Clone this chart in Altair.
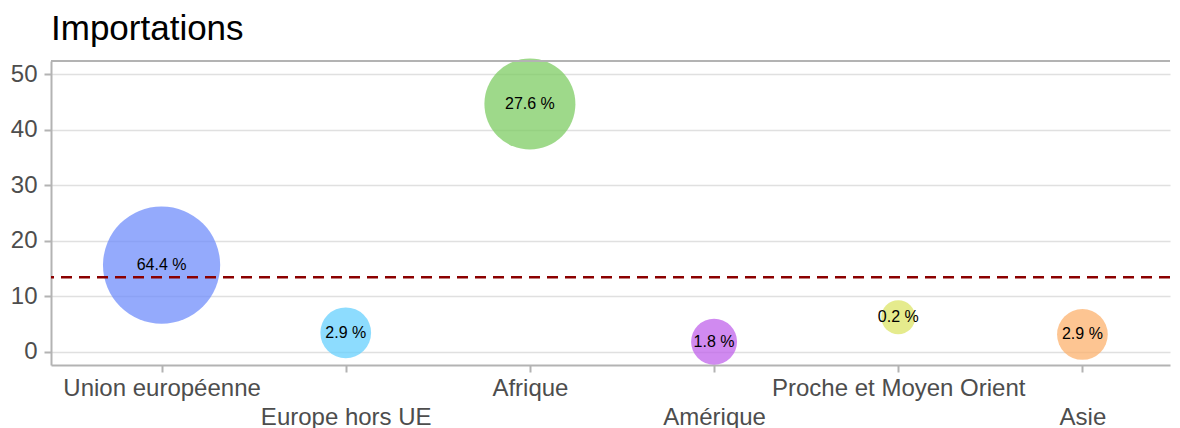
import altair as alt
import pandas as pd

regions = ["Union européenne", "Europe hors UE", "Afrique", "Amérique",
           "Proche et Moyen Orient", "Asie"]
y_values = [15.6, 3.4, 44.6, 1.8, 6.2, 3.1]
shares = [64.4, 2.9, 27.6, 1.8, 0.2, 2.9]
share_labels = ["64.4 %", "2.9 %", "27.6 %", "1.8 %", "0.2 %", "2.9 %"]
colors = ["#708efb", "#67d0fd", "#7dcc63", "#c063eb", "#dce467", "#fcb16d"]
reference_line = [13.4]
y_ticks = [0, 5, 10, 15, 20, 25, 30, 35, 40, 45, 50]
lower_row = ["Europe hors UE", "Amérique", "Asie"]

FONT = "Liberation Sans"

df = pd.DataFrame({"region": regions, "y": y_values, "share": shares, "label": share_labels})
ref_df = pd.DataFrame({"y": reference_line})
one = pd.DataFrame({"k": [0]})

lower_test = " || ".join("datum.label == '" + r + "'" for r in lower_row)

x_enc = alt.X(
    "region:N",
    sort=regions,
    scale=alt.Scale(type="point", padding=0.538, align=0.558),
    axis=alt.Axis(
        title=None,
        labelAngle=0,
        labelExpr=f"({lower_test}) ? ['', datum.label] : datum.label",
        labelLineHeight=29,
        labelPadding=4,
        labelLimit=600,
    ),
)
y_enc = alt.Y(
    "y:Q",
    scale=alt.Scale(domain=[-2.4, 52.35], nice=False, zero=False),
    axis=alt.Axis(
        title=None,
        values=y_ticks,
        labelExpr="datum.value % 10 == 0 ? datum.label : ''",
        tickOpacity={"condition": {"test": "datum.value % 10 != 0", "value": 0}, "value": 1},
        labelPadding=7,
    ),
)

base = alt.Chart(df).encode(x=x_enc, y=y_enc)

circles = base.mark_circle(opacity=0.75).encode(
    size=alt.Size("share:Q",
                  scale=alt.Scale(type="pow", exponent=0.65, domain=[0.2, 64.4],
                                  range=[1156, 13736]),
                  legend=None),
    color=alt.Color("region:N", scale=alt.Scale(domain=regions, range=colors), legend=None),
)

texts = base.mark_text(fontSize=16, font=FONT, color="black").encode(text="label:N")

hline = alt.Chart(ref_df).mark_rule(color="#8B0000", strokeDash=[11, 7], strokeWidth=2.6).encode(
    y=alt.Y("y:Q")
)

top_border = alt.Chart(one).mark_rule(color="#b3b3b3", strokeWidth=2).encode(
    x=alt.value(0), x2=alt.value("width"), y=alt.value(0)
)

chart = alt.layer(circles, hline, texts, top_border).properties(
    width=1164,
    height=304,
    autosize=alt.AutoSizeParams(type="fit-x", contains="padding"),
    title=alt.Title("Importations", fontSize=35, font=FONT, anchor="start", frame="group",
                    color="black", fontWeight="normal", offset=12),
    padding={"left": 2, "top": 3, "right": 0, "bottom": 0},
).configure_view(stroke=None).configure_axis(
    domainColor="#b3b3b3",
    domainWidth=2,
    tickColor="#b3b3b3",
    tickWidth=2,
    tickSize=7,
    labelColor="#4d4d4d",
    labelFontSize=24,
    labelFont=FONT,
    gridColor="#e0e0e0",
    gridWidth=1.3,
)

chart.save("out.html", embed_options={"renderer": "svg", "actions": False})
